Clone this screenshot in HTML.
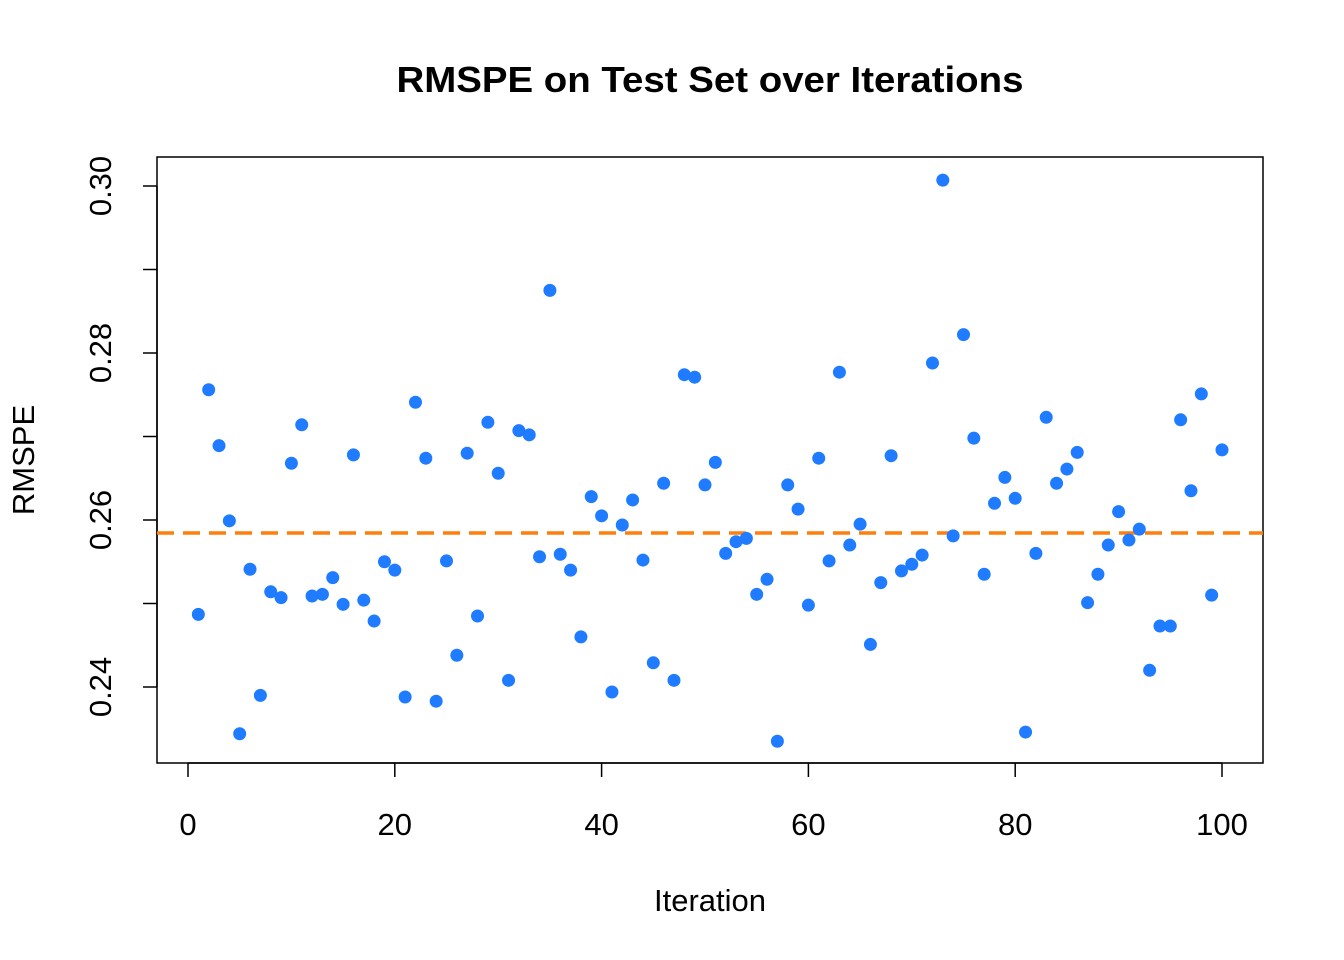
<!DOCTYPE html>
<html><head><meta charset="utf-8"><style>
body{margin:0;background:#fff}
svg{display:block;font-family:"Liberation Sans",Arial,sans-serif}
</style></head><body>
<svg id="chart" width="1344" height="960">
<text x="710" y="92" text-anchor="middle" font-size="36" font-weight="bold" textLength="627" lengthAdjust="spacingAndGlyphs">RMSPE on Test Set over Iterations</text>
<rect x="157" y="157" width="1106" height="606" fill="none" stroke="#000" stroke-width="1.5"/>
<text x="710" y="911" text-anchor="middle" font-size="31">Iteration</text>
<text transform="translate(34,460) rotate(-90)" text-anchor="middle" font-size="31">RMSPE</text>
<g id="axes"></g>
<g id="marks"></g>
</svg>
<script>
const iterations = Array.from({length:100},(_,i)=>i+1);
const rmspe = [0.2487,0.2756,0.2689,0.2599,0.2344,0.2541,0.2390,0.2514,0.2507,0.2668,
0.2714,0.2509,0.2511,0.2531,0.2499,0.2678,0.2504,0.2479,0.2550,0.2540,
0.2388,0.2741,0.2674,0.2383,0.2551,0.2438,0.2680,0.2485,0.2717,0.2656,
0.2408,0.2707,0.2702,0.2556,0.2875,0.2559,0.2540,0.2460,0.2628,0.2605,
0.2394,0.2594,0.2624,0.2552,0.2429,0.2644,0.2408,0.2774,0.2771,0.2642,
0.2669,0.2560,0.2574,0.2578,0.2511,0.2529,0.2335,0.2642,0.2613,0.2498,
0.2674,0.2551,0.2777,0.2570,0.2595,0.2451,0.2525,0.2677,0.2539,0.2547,
0.2558,0.2788,0.3007,0.2581,0.2822,0.2698,0.2535,0.2620,0.2651,0.2626,
0.2346,0.2560,0.2723,0.2644,0.2661,0.2681,0.2501,0.2535,0.2570,0.2610,
0.2576,0.2589,0.2420,0.2473,0.2473,0.2720,0.2635,0.2751,0.2510,0.2684];
const meanValue = 0.25844;
const xTicks = [0,20,40,60,80,100];
const yTicks = [0.24,0.25,0.26,0.27,0.28,0.29,0.30];
const yTickLabels = ["0.24","","0.26","","0.28","","0.30"];

const NS="http://www.w3.org/2000/svg";
const xs = v => 188 + v*10.34;
const ys = v => 186 + (0.30 - v)*8350;
const axes=document.getElementById('axes'), marks=document.getElementById('marks');
function mk(tag,attrs,parent){const e=document.createElementNS(NS,tag);for(const k in attrs)e.setAttribute(k,attrs[k]);parent.appendChild(e);return e;}

mk('line',{x1:xs(0),x2:xs(100),y1:763,y2:763,stroke:'#000','stroke-width':1.5},axes);
xTicks.forEach(t=>{
  const l=mk('line',{x1:xs(t),x2:xs(t),y1:763,y2:777,stroke:'#000','stroke-width':1.5},axes);
  
  
  const tx=mk('text',{x:xs(t),y:835,'text-anchor':'middle','font-size':31},axes);
  tx.textContent=t;
  
  
});
mk('line',{x1:157,x2:157,y1:ys(0.30),y2:ys(0.24),stroke:'#000','stroke-width':1.5},axes);
yTicks.forEach((t,i)=>{
  const l=mk('line',{x1:143,x2:157,y1:ys(t),y2:ys(t),stroke:'#000','stroke-width':1.5},axes);
  
  
  if(yTickLabels[i]){
    const tx=mk('text',{transform:`translate(111,${ys(t)}) rotate(-90)`,'text-anchor':'middle','font-size':31},axes);
    tx.textContent=yTickLabels[i];
    
    
  }
});
const ml=mk('line',{x1:157,x2:1263,y1:ys(meanValue),y2:ys(meanValue),stroke:'#ff7f0e','stroke-width':3.5,'stroke-dasharray':'17 9'},marks);


iterations.forEach((it,i)=>{
  const c=mk('circle',{cx:xs(it),cy:ys(rmspe[i]),r:6.5,fill:'#1f7bff'},marks);
  
  
});
</script>
</body></html>
